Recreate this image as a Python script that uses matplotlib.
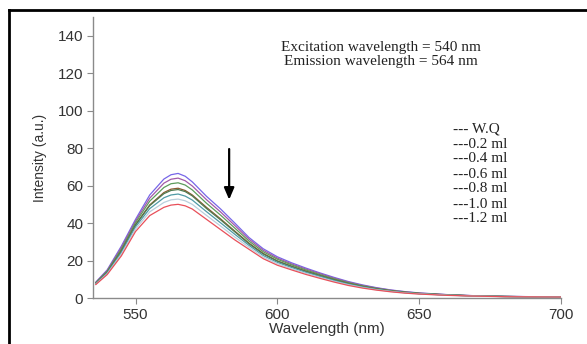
import matplotlib
matplotlib.use("Agg")
import matplotlib.pyplot as plt
from matplotlib.lines import Line2D

# wavelength grid (nm)
wl = [536, 540, 545, 550, 555, 560, 562.5, 565, 567.5, 570, 575, 580, 585, 590, 595, 600,
      605, 610, 615, 620, 625, 630, 635, 640, 645, 650, 660, 670, 680, 690, 700]

# emission spectra (top to bottom)
wq = [8.5, 15, 27.7, 42, 55, 63.5, 65.8, 66.5, 65, 62, 54.3, 47.5, 40, 32.3, 26.3, 22,
      18.8, 16, 13.4, 11, 8.8, 7, 5.5, 4.3, 3.4, 2.7, 1.8, 1.2, 0.9, 0.7, 0.5]
ml02 = [8.3, 14.6, 26.9, 41.1, 53.3, 61.3, 63.4, 64, 62.6, 59.8, 52.5, 45.9, 38.7, 31.4, 25.5, 21.3,
        18.2, 15.5, 13, 10.6, 8.5, 6.7, 5.3, 4.15, 3.3, 2.6, 1.75, 1.17, 0.87, 0.68, 0.5]
ml04 = [8.1, 14.25, 26.1, 40.2, 51.7, 59, 61, 61.5, 60.3, 57.7, 50.6, 44.2, 37.3, 30.4, 24.7, 20.7,
        17.7, 15, 12.5, 10.25, 8.2, 6.5, 5.1, 4, 3.16, 2.5, 1.7, 1.14, 0.84, 0.67, 0.5]
ml06 = [7.9, 13.8, 25.2, 39.1, 49.7, 56.3, 58.1, 58.6, 57.4, 55.0, 48.4, 42.2, 35.7, 29.3, 23.8, 19.8,
        17, 14.4, 12, 9.8, 7.8, 6.2, 4.9, 3.8, 3.0, 2.4, 1.6, 1.1, 0.8, 0.65, 0.5]
ml08 = [7.8, 13.7, 25, 38.9, 49.3, 55.7, 57.4, 57.9, 56.8, 54.5, 47.8, 41.7, 35.3, 28.9, 23.5, 19.6,
        16.8, 14.2, 11.9, 9.7, 7.7, 6.1, 4.8, 3.75, 2.96, 2.37, 1.58, 1.09, 0.79, 0.65, 0.5]
ml10 = [7.6, 13.3, 24.2, 38, 47.7, 53.5, 55, 55.5, 54.4, 52.3, 46.1, 40.1, 34, 28.1, 22.7, 19,
        16.3, 13.7, 11.5, 9.3, 7.4, 5.9, 4.6, 3.6, 2.86, 2.3, 1.53, 1.07, 0.77, 0.63, 0.5]
ml12 = [7.4, 12.9, 23.4, 36.8, 46, 51, 52.4, 52.8, 51.9, 50, 44.1, 38.4, 32.5, 27.1, 21.9, 18.3,
        15.6, 13.2, 11, 8.9, 7.1, 5.6, 4.4, 3.5, 2.7, 2.2, 1.47, 1.03, 0.73, 0.62, 0.5]
ml14 = [7.2, 12.5, 22.5, 35.5, 44, 48.4, 49.6, 50, 49.2, 47.5, 42, 36.5, 31, 26, 21, 17.5,
        15, 12.6, 10.5, 8.5, 6.7, 5.3, 4.2, 3.3, 2.6, 2.1, 1.4, 1.0, 0.7, 0.6, 0.5]

series = [wq, ml02, ml04, ml06, ml08, ml10, ml12, ml14]
colors = ['#7766e8', '#a25aa8', '#5c9c5c', '#8a5a30', '#4f7a4f', '#4f9aa6', '#b9cfdc', '#e8505a']

legend_labels = ['--- W.Q', '---0.2 ml', '---0.4 ml', '---0.6 ml',
                 '---0.8 ml', '---1.0 ml', '---1.2 ml']

fig = plt.figure(figsize=(5.87, 3.44), dpi=100)
ax = fig.add_axes([93/587, 46/344, 468/587, 281/344])

for s, c in zip(series, colors):
    ax.plot(wl, s, color=c, lw=0.9)

ax.set_xlim(535, 700)
ax.set_ylim(0, 150)
ax.set_xticks([550, 600, 650, 700])
ax.set_yticks([0, 20, 40, 60, 80, 100, 120, 140])

for side in ['top', 'right']:
    ax.spines[side].set_visible(False)
for side in ['left', 'bottom']:
    ax.spines[side].set_color('#8a8a8a')
    ax.spines[side].set_linewidth(1.0)
ax.tick_params(direction='out', length=4, color='#8a8a8a', labelsize=11,
               labelcolor='#333333', pad=3)
for lab in ax.get_xticklabels() + ax.get_yticklabels():
    lab.set_fontfamily('Liberation Sans')

ax.set_xlabel('Wavelength (nm)', fontsize=11, family='Liberation Sans',
              color='#333333', labelpad=0)
ax.set_ylabel('Intensity (a.u.)', fontsize=10, family='Liberation Sans',
              color='#333333', labelpad=8)

# arrow showing quenching
ax.annotate('', xy=(583, 51), xytext=(583, 81),
            arrowprops=dict(arrowstyle='-|>,head_width=0.3,head_length=0.7',
                            color='black', lw=1.6))

fig.text(381/587, 1 - 47/344, 'Excitation wavelength = 540 nm', ha='center',
         va='center', family='Liberation Serif', fontsize=11, color='#222222')
fig.text(381/587, 1 - 62/344, 'Emission wavelength = 564 nm', ha='center',
         va='center', family='Liberation Serif', fontsize=11, color='#222222')

for i, t in enumerate(legend_labels):
    fig.text(453/587, 1 - (129 + 15 * i)/344, t, ha='left', va='center',
             family='Liberation Serif', fontsize=11, color='#222222')

# outer black frame (left and top edges visible)
fx = 9/587
fy = 1 - 10/344
fig.add_artist(Line2D([fx, fx], [0, fy], transform=fig.transFigure,
                      color='black', lw=2, solid_capstyle='projecting'))
fig.add_artist(Line2D([fx, 1], [fy, fy], transform=fig.transFigure,
                      color='black', lw=2, solid_capstyle='projecting'))

fig.savefig('out.png', dpi=100)
